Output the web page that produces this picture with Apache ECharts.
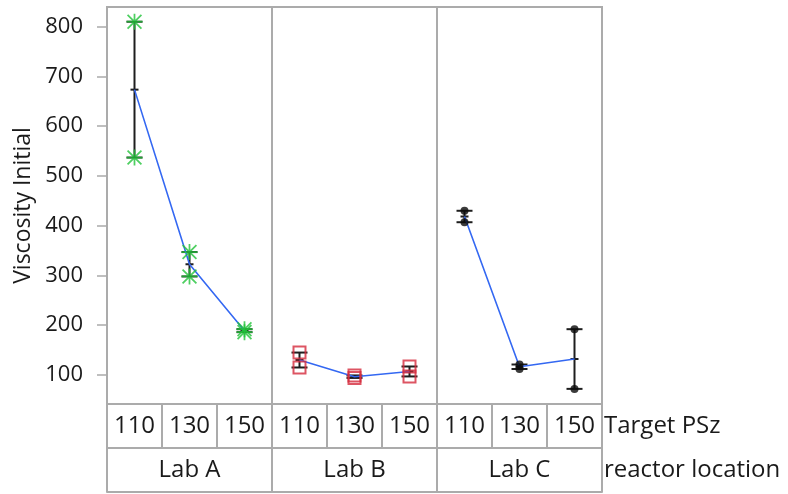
<!DOCTYPE html>
<html>
<head>
<meta charset="utf-8">
<script src="https://cdn.jsdelivr.net/npm/echarts@6/dist/echarts.min.js"></script>
<style>
  html, body { margin: 0; padding: 0; background: #fff; }
  #chart { width: 788px; height: 494px; }
</style>
</head>
<body>
<div id="chart"></div>
<script>
// Variability chart: Viscosity Initial by Target PSz within reactor location
const targetPSz = ['110', '130', '150'];
const labs = ['Lab A', 'Lab B', 'Lab C'];

// Two runs per Target PSz cell, in the order of targetPSz
const labARun1 = [810, 347, 192];
const labARun2 = [537, 298, 186];
const labBRun1 = [145, 99, 117];
const labBRun2 = [115, 94, 97];
const labCRun1 = [430, 121, 192];
const labCRun2 = [407, 112, 72];

const yTicks = [100, 200, 300, 400, 500, 600, 700, 800];

const runsByLab = [
  [labARun1, labARun2],
  [labBRun1, labBRun2],
  [labCRun1, labCRun2]
];

const FONT = '"Open Sans", "Noto Sans", sans-serif';
const FRAME = '#ababab';
const TEXT = '#1a1a1a';

// Star marker (8 arms) for Lab A
const starPath = 'path://M8.9 0H11.1V20H8.9Z M0 8.9H20V11.1H0Z ' +
  'M2.13 0.57L19.43 17.87L17.87 19.43L0.57 2.13Z ' +
  'M17.87 0.57L19.43 2.13L2.13 19.43L0.57 17.87Z';

const markerStyles = [
  { symbol: starPath, symbolSize: 16, itemStyle: { color: '#22c33a' } },
  { symbol: 'rect', symbolSize: 12, itemStyle: { color: 'rgba(0,0,0,0)', borderColor: '#d42a3c', borderWidth: 2 } },
  { symbol: 'circle', symbolSize: 8, itemStyle: { color: '#0a0a0a' } }
];

const panelLeft = 107, panelWidth = 165, plotTop = 7, plotHeight = 397;
const rowH = 44;
const tableRight = panelLeft + panelWidth * labs.length;
const plotBottom = plotTop + plotHeight;

// Range bar: vertical line between runs, end ticks and a short mean tick
function renderRange(params, api) {
  const j = api.value(0);
  const a = api.value(1), b = api.value(2);
  const lo = Math.min(a, b), hi = Math.max(a, b), mean = (a + b) / 2;
  const pLo = api.coord([j, lo]);
  const pHi = api.coord([j, hi]);
  const pMean = api.coord([j, mean]);
  const x = pLo[0];
  const style = { stroke: '#1e1e1e', lineWidth: 2 };
  return {
    type: 'group',
    children: [
      { type: 'line', shape: { x1: x, y1: pLo[1], x2: x, y2: pHi[1] }, style },
      { type: 'line', shape: { x1: x - 8, y1: pLo[1], x2: x + 8, y2: pLo[1] }, style },
      { type: 'line', shape: { x1: x - 8, y1: pHi[1], x2: x + 8, y2: pHi[1] }, style },
      { type: 'line', shape: { x1: x - 4, y1: pMean[1], x2: x + 4, y2: pMean[1] }, style }
    ]
  };
}

const grids = [], xAxes = [], yAxes = [], series = [];

labs.forEach((lab, i) => {
  grids.push({
    left: panelLeft + panelWidth * i, top: plotTop,
    width: panelWidth, height: plotHeight,
    outerBoundsMode: 'none', containLabel: false,
    show: true, borderColor: FRAME, borderWidth: 2, backgroundColor: '#fff'
  });

  // Target PSz row
  xAxes.push({
    gridIndex: i, type: 'category', data: targetPSz, position: 'bottom',
    offset: rowH, boundaryGap: true,
    axisLine: { show: true, lineStyle: { color: FRAME, width: 2 } },
    axisTick: { show: true, inside: true, length: rowH, alignWithLabel: false, lineStyle: { color: FRAME, width: 2 } },
    axisLabel: { inside: true, margin: rowH / 2, verticalAlign: 'middle', fontSize: 24, color: TEXT, fontFamily: FONT }
  });

  // reactor location row
  xAxes.push({
    gridIndex: i, type: 'category', data: [lab], position: 'bottom',
    offset: rowH * 2, boundaryGap: true,
    axisLine: { show: true, lineStyle: { color: FRAME, width: 2 } },
    axisTick: { show: true, inside: true, length: rowH, alignWithLabel: false, lineStyle: { color: FRAME, width: 2 } },
    axisLabel: { inside: true, margin: rowH / 2, verticalAlign: 'middle', fontSize: 24, color: TEXT, fontFamily: FONT }
  });

  yAxes.push({
    gridIndex: i, type: 'value', min: 41.6, max: 839.6,
    show: i === 0,
    name: i === 0 ? 'Viscosity Initial' : '', nameLocation: 'middle', nameGap: 72,
    nameTextStyle: { fontSize: 23, color: TEXT, fontFamily: FONT },
    axisLine: { show: true, lineStyle: { color: FRAME, width: 2 } },
    axisTick: { show: true, length: 10, customValues: yTicks, lineStyle: { color: FRAME, width: 1.5 } },
    axisLabel: { customValues: yTicks, margin: 24, fontSize: 22, color: TEXT, fontFamily: FONT },
    splitLine: { show: false }
  });

  const [run1, run2] = runsByLab[i];
  const rangeData = targetPSz.map((_, j) => [j, run1[j], run2[j]]);
  const meanData = targetPSz.map((_, j) => (run1[j] + run2[j]) / 2);
  const pointData = [];
  targetPSz.forEach((_, j) => { pointData.push([j, run1[j]]); pointData.push([j, run2[j]]); });

  series.push({
    type: 'custom', xAxisIndex: 2 * i, yAxisIndex: i,
    renderItem: renderRange, data: rangeData, z: 2, silent: true
  });
  series.push({
    type: 'line', xAxisIndex: 2 * i, yAxisIndex: i, data: meanData,
    showSymbol: false, symbol: 'none', lineStyle: { color: '#3468f2', width: 1.6 }, z: 3, silent: true
  });
  series.push(Object.assign({
    type: 'scatter', xAxisIndex: 2 * i, yAxisIndex: i, data: pointData, z: 4, silent: true
  }, markerStyles[i]));
});

// Row titles to the right of the grouping table
const rowTitles = ['Target PSz', 'reactor location'].map((t, r) => ({
  type: 'text',
  x: tableRight + 2,
  y: plotBottom + rowH * r + rowH / 2,
  style: { text: t, fontSize: 24, fontFamily: FONT, fill: TEXT, align: 'left', verticalAlign: 'middle' }
}));

const chart = echarts.init(document.getElementById('chart'), null, { renderer: 'canvas' });
chart.setOption({
  animation: false,
  backgroundColor: '#fff',
  textStyle: { fontFamily: FONT },
  grid: grids,
  xAxis: xAxes,
  yAxis: yAxes,
  graphic: rowTitles,
  series: series
});
</script>
</body>
</html>
